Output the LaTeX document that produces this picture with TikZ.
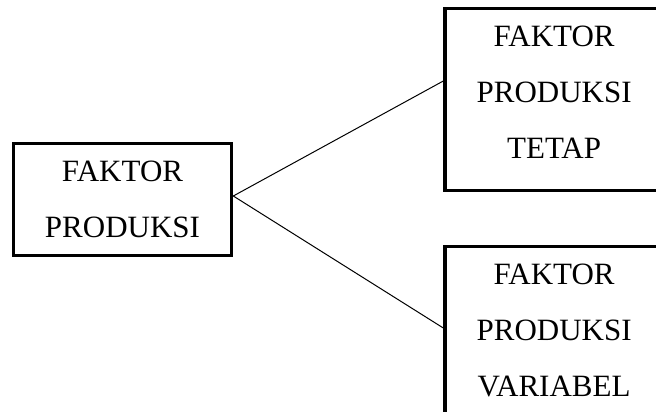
\documentclass[tikz,border=0pt]{standalone}
\usepackage{fontspec}
\setmainfont{Liberation Serif}
\usetikzlibrary{positioning}

\begin{document}
\begin{tikzpicture}[
        x=1pt, y=-1pt,
        box/.style={rectangle, draw, line width=3.6pt, minimum width=218pt, align=center,
                    font=\fontsize{31}{56}\selectfont},
        small/.style={minimum height=112pt},
        tall/.style={minimum height=182pt, text depth=14pt},
        line/.style={line width=1pt}
    ]
    \useasboundingbox (0,0) rectangle (656,412);
    \clip (0,0) rectangle (656,412);

    % simpul
    \node[box, small] (fp) at (122.5,199.5) {FAKTOR\\PRODUKSI};
    \node[box, tall, right=210pt of fp, yshift=100pt] (tetap) {FAKTOR\\PRODUKSI\\TETAP};
    \node[box, tall, right=210pt of fp, yshift=-138pt] (variabel) {FAKTOR\\PRODUKSI\\VARIABEL};

    % garis
    \draw[line] ([yshift=3.5pt]fp.east) -- ([yshift=18.5pt]tetap.west);
    \draw[line] ([yshift=3.5pt]fp.east) -- ([yshift=9.5pt]variabel.west);

\end{tikzpicture}
\end{document}
